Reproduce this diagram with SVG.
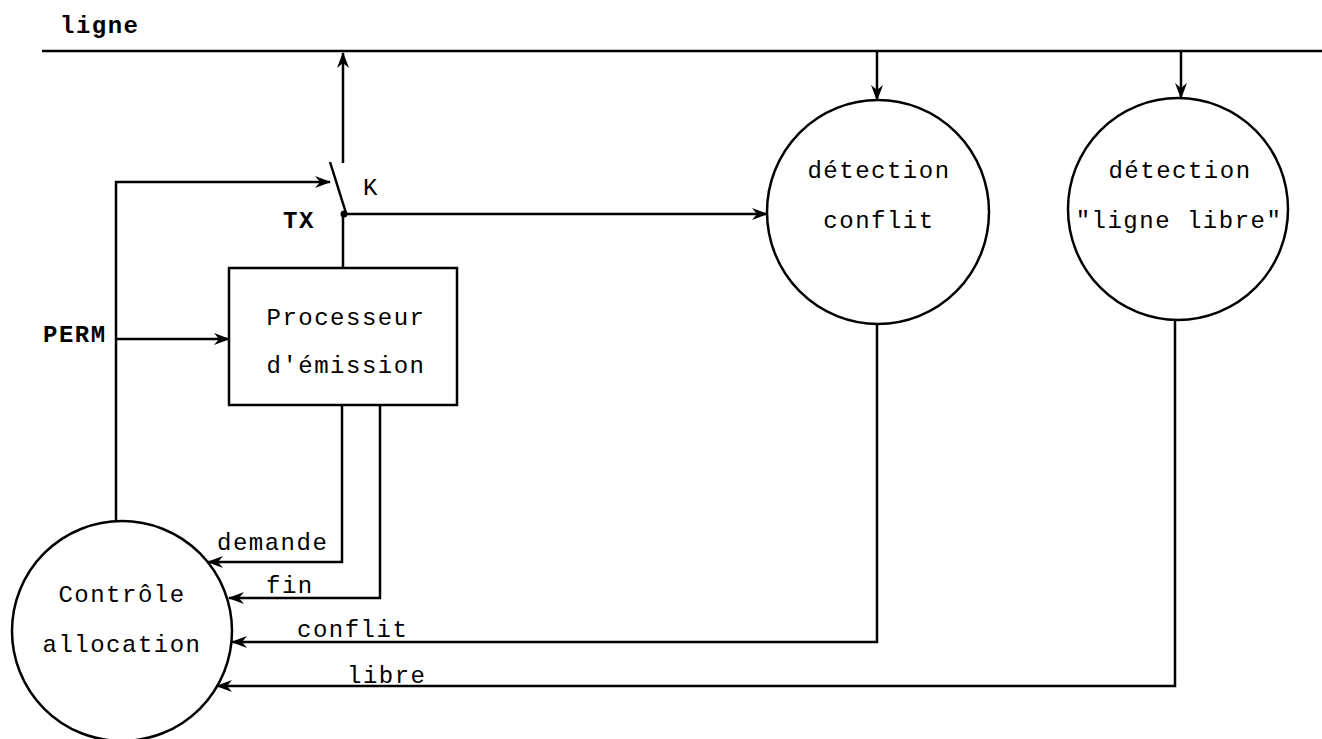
<svg xmlns="http://www.w3.org/2000/svg" width="1322" height="739" viewBox="0 0 1322 739">
<defs>
<marker id="ah" markerUnits="userSpaceOnUse" markerWidth="16" markerHeight="12" refX="15" refY="6" orient="auto">
<path d="M0,0 L16,6 L0,12 L5,6 z" fill="#000"/>
</marker>
<style>
.t{font-family:"Liberation Mono","Courier New",monospace;font-size:24px;letter-spacing:1.5px;fill:#000}
.b{font-weight:bold}
.w{fill:none;stroke:#000;stroke-width:2.5}
.n{fill:#fff;stroke:#000;stroke-width:2.5}
</style>
</defs>
<rect width="1322" height="739" fill="#fff"/>
<g id="ligne">
<line x1="42" y1="51" x2="1322" y2="51" stroke="#000" stroke-width="2.5"/>
<text class="t b" x="60" y="33">ligne</text>
</g>
<g id="connectors">
<path class="w" d="M343,163 L343,53" marker-end="url(#ah)"/>
<line x1="330" y1="162" x2="346" y2="213" stroke="#000" stroke-width="2.5"/>
<circle cx="344" cy="214" r="3.5" fill="#000"/>
<path class="w" d="M343,268 L343,214"/>
<path class="w" d="M116,521 L116,182 L330,182" marker-end="url(#ah)"/>
<path class="w" d="M116,339 L229,339" marker-end="url(#ah)"/>
<path class="w" d="M344,214 L767,214" marker-end="url(#ah)"/>
<path class="w" d="M877,51 L877,100" marker-end="url(#ah)"/>
<path class="w" d="M1181,51 L1181,98" marker-end="url(#ah)"/>
<path class="w" d="M342,405 L342,562 L208,562" marker-end="url(#ah)"/>
<path class="w" d="M380,405 L380,598 L229,598" marker-end="url(#ah)"/>
<path class="w" d="M877,323 L877,642 L232,642" marker-end="url(#ah)"/>
<path class="w" d="M1175,320 L1175,686 L217,686" marker-end="url(#ah)"/>
<text class="t b" x="43" y="342">PERM</text>
<text class="t b" x="283" y="228">TX</text>
<text class="t" x="363" y="195">K</text>
<text class="t" x="217" y="550">demande</text>
<text class="t" x="266" y="593">fin</text>
<text class="t" x="297" y="637">conflit</text>
<text class="t" x="347" y="683">libre</text>
</g>
<g id="processeur">
<rect class="n" x="229" y="268" width="228" height="137"/>
<text class="t" x="346" y="325" text-anchor="middle">Processeur</text>
<text class="t" x="346" y="373" text-anchor="middle">d'émission</text>
</g>
<g id="detection-conflit">
<ellipse class="n" cx="878" cy="212" rx="111" ry="112"/>
<text class="t" x="879" y="178" text-anchor="middle">détection</text>
<text class="t" x="879" y="228" text-anchor="middle">conflit</text>
</g>
<g id="detection-ligne-libre">
<ellipse class="n" cx="1178" cy="209" rx="110" ry="111"/>
<text class="t" x="1180" y="178" text-anchor="middle">détection</text>
<text class="t" x="1179" y="228" text-anchor="middle">"ligne libre"</text>
</g>
<g id="controle-allocation">
<circle class="n" cx="122" cy="631" r="110"/>
<text class="t" x="122" y="602" text-anchor="middle">Contrôle</text>
<text class="t" x="122" y="652" text-anchor="middle">allocation</text>
</g>
</svg>
